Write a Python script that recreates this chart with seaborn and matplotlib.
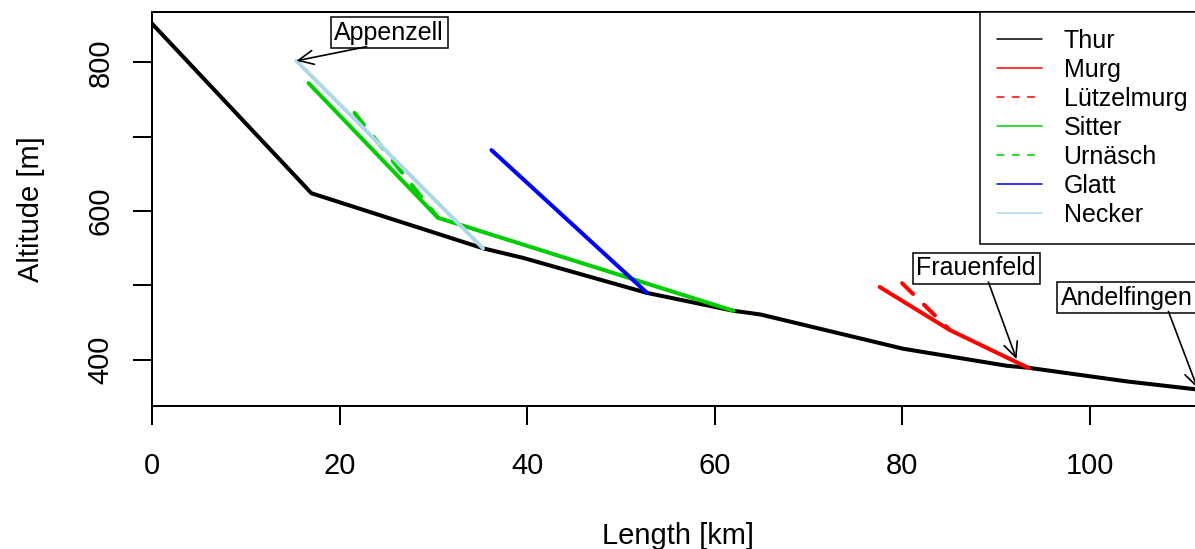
import pandas as pd
import matplotlib.pyplot as plt
import seaborn as sns

# ----------------------------------------------------------------------------
# DATA  (length along river [km], altitude [m])
# ----------------------------------------------------------------------------
thur_km = [0, 17.0, 35.3, 39.6, 52.8, 62.0, 64.9, 80.1, 91.2, 93.4, 104.0, 112.3]
thur_alt = [852, 624, 550, 537, 490, 466, 461, 415, 392, 389.5, 371, 359]
murg_km = [77.6, 85.1, 93.5]
murg_alt = [498, 440, 389]
luetzelmurg_km = [80.0, 85.1]
luetzelmurg_alt = [503, 440]
sitter_km = [16.7, 30.5, 62.0]
sitter_alt = [772, 591, 466]
urnaesch_km = [21.6, 30.5]
urnaesch_alt = [732, 591]
glatt_km = [36.2, 52.8]
glatt_alt = [682, 490]
necker_km = [15.4, 35.3]
necker_alt = [802, 550]

rivers = ['Thur', 'Murg', 'Lützelmurg', 'Sitter', 'Urnäsch', 'Glatt', 'Necker']
river_km = [thur_km, murg_km, luetzelmurg_km, sitter_km, urnaesch_km, glatt_km, necker_km]
river_alt = [thur_alt, murg_alt, luetzelmurg_alt, sitter_alt, urnaesch_alt, glatt_alt, necker_alt]
colors = ['black', 'red', 'red', '#00CD00', '#00CD00', 'blue', 'lightblue']
dashed = [False, False, True, False, True, False, False]

places = ['Appenzell', 'Frauenfeld', 'Andelfingen']
label_km = [25.3, 87.9, 104.0]
label_alt = [840, 523, 483.6]
arrow_from_km = [22.9, 89.2, 108.4]
arrow_from_alt = [821, 504.6, 465]
arrow_to_km = [15.4, 92.2, 111.5]
arrow_to_alt = [802, 401, 362]

# ----------------------------------------------------------------------------
# PLOT
# ----------------------------------------------------------------------------
sns.set_style('white')
plt.rcParams['font.family'] = ['Liberation Sans', 'DejaVu Sans']
plt.rcParams.update({'text.color': 'black', 'axes.labelcolor': 'black',
                     'xtick.color': 'black', 'ytick.color': 'black'})

W, H = 1195, 549
fig = plt.figure(figsize=(W / 100, H / 100), dpi=100)
ax = fig.add_axes([152 / W, 143 / H, 1053 / W, 394 / H])

for name, km, alt, col, dsh in zip(rivers, river_km, river_alt, colors, dashed):
    df = pd.DataFrame({'km': km, 'alt': alt})
    ls = (0, (3.8, 3.8)) if dsh else '-'
    sns.lineplot(data=df, x='km', y='alt', ax=ax, sort=False, estimator=None,
                 color=col, linestyle=ls, lw=2.9, label=name,
                 solid_capstyle='round', solid_joinstyle='round',
                 dash_capstyle='round')

ax.set_xlim(0, 112.3)
ax.set_ylim(338, 867.6)

for s in ['left', 'bottom', 'top']:
    ax.spines[s].set_color('black')
    ax.spines[s].set_linewidth(1.45)
ax.spines['right'].set_visible(False)

ax.set_xticks([0, 20, 40, 60, 80, 100])
ax.set_yticks([400, 500, 600, 700, 800])
ax.set_yticklabels(['400', '', '600', '', '800'], rotation=90, va='center')
ax.tick_params(axis='both', bottom=True, left=True, direction='out',
               length=13.7, width=1.45, color='black', labelcolor='black',
               labelsize=21)
ax.tick_params(axis='x', pad=19.4)
ax.tick_params(axis='y', pad=13.3)

ax.set_xlabel('Length [km]', fontsize=21, color='black')
ax.set_ylabel('Altitude [m]', fontsize=21, color='black')
ax.xaxis.set_label_coords(0.5, -0.294)
ax.yaxis.set_label_coords(-0.102, 0.5)

# place labels with arrows
for p, tx, ty, fx, fy, ex, ey in zip(places, label_km, label_alt,
                                     arrow_from_km, arrow_from_alt,
                                     arrow_to_km, arrow_to_alt):
    ax.text(tx, ty, p, fontsize=18, ha='center', va='center', color='black',
            bbox=dict(boxstyle='square,pad=0.15', fc='white', ec='black', lw=1.1),
            clip_on=False)
    ax.annotate('', xy=(ex, ey), xytext=(fx, fy), annotation_clip=False,
                arrowprops=dict(arrowstyle='->,head_length=0.6,head_width=0.28',
                                lw=1.2, color='black', mutation_scale=18,
                                shrinkA=0, shrinkB=0))

leg = ax.legend(loc='upper left', bbox_to_anchor=((980 - 152) / 1053, 1.0),
                borderaxespad=0, fontsize=18, frameon=True, fancybox=False,
                edgecolor='black', framealpha=1, handlelength=1.8,
                handletextpad=0.86, labelspacing=0.2, borderpad=0.68)
leg.get_frame().set_linewidth(1.1)
for line, dsh in zip(leg.get_lines(), dashed):
    line.set_linewidth(1.1)
    if dsh:
        line.set_linestyle((0, (4.5, 5.5)))
for t in leg.get_texts():
    t.set_color('black')

plt.savefig('out.png', dpi=100)
